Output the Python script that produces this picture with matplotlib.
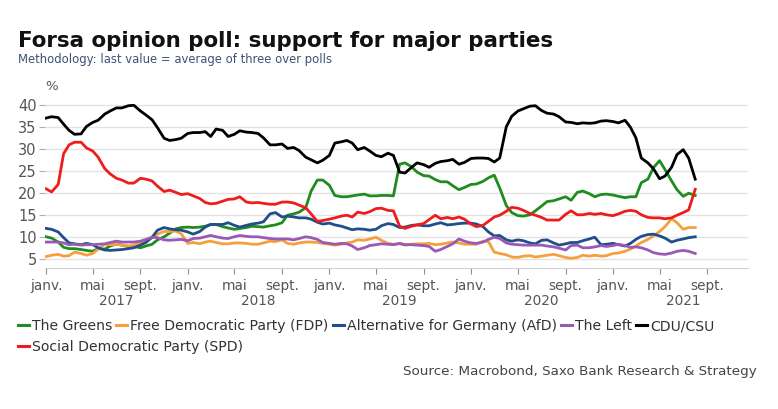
import matplotlib
matplotlib.use("Agg")
import matplotlib.pyplot as plt
from matplotlib.lines import Line2D
from matplotlib.transforms import blended_transform_factory
import pandas as pd

plt.rcParams['font.family'] = ['DejaVu Sans']

# semi-monthly observations, Jan 2017 .. Aug 2021
dates = pd.date_range('2017-01-01', periods=111, freq='SMS')

cdu = [37.1, 37.4, 37.2, 35.7, 34.3, 33.4, 33.5, 35.2, 36.1, 36.6,
       38.0, 38.7, 39.4, 39.4, 39.9, 40.0, 38.7, 37.8, 36.7, 34.9,
       32.5, 32.0, 32.2, 32.5, 33.6, 33.8, 33.8, 34.0, 32.9, 34.6,
       34.3, 32.9, 33.4, 34.2, 33.9, 33.8, 33.6, 32.6, 31.0, 31.0,
       31.2, 30.2, 30.4, 29.7, 28.2, 27.6, 26.9, 27.5, 28.6, 31.4,
       31.7, 32.0, 31.4, 29.9, 30.4, 29.6, 28.6, 28.3, 29.1, 28.6,
       24.8, 24.6, 25.9, 26.9, 26.5, 25.9, 26.8, 27.2, 27.4, 27.7,
       26.6, 27.0, 27.9, 28.0, 28.0, 27.9, 27.1, 28.0, 35.1, 37.5,
       38.7, 39.2, 39.8, 39.9, 38.8, 38.2, 38.0, 37.4, 36.2, 36.1,
       35.8, 36.0, 35.9, 36.0, 36.4, 36.5, 36.3, 36.0, 36.6, 35.0,
       32.6, 28.0, 26.9, 25.6, 23.3, 23.9, 25.9, 28.8, 29.9, 28.0,
       23.2]

spd = [21.0, 20.3, 22.0, 29.0, 31.0, 31.6, 31.6, 30.3, 29.6, 28.2,
       25.6, 24.4, 23.4, 23.0, 22.3, 22.3, 23.4, 23.2, 22.8, 21.6,
       20.4, 20.7, 20.2, 19.7, 19.9, 19.4, 18.8, 17.9, 17.6, 17.7,
       18.2, 18.6, 18.7, 19.2, 18.0, 17.8, 17.9, 17.7, 17.5, 17.5,
       18.0, 18.0, 17.8, 17.3, 16.7, 15.3, 13.6, 13.8, 14.1, 14.4,
       14.8, 15.0, 14.6, 15.7, 15.4, 15.8, 16.5, 16.6, 16.1, 16.0,
       12.5, 12.0, 12.5, 12.8, 13.1, 14.0, 15.0, 14.2, 14.5, 14.2,
       14.6, 14.1, 13.0, 12.4, 12.7, 13.6, 14.6, 15.0, 15.9, 16.8,
       16.6, 16.1, 15.4, 15.0, 14.5, 13.9, 13.9, 13.9, 15.2, 16.0,
       15.1, 15.1, 15.4, 15.2, 15.4, 15.1, 14.9, 15.3, 15.9, 16.1,
       15.9, 15.1, 14.5, 14.4, 14.4, 14.2, 14.4, 15.0, 15.6, 16.2,
       20.9]

greens = [10.1, 9.8, 8.9, 7.7, 7.4, 7.4, 7.2, 7.0, 6.8, 7.4,
          7.3, 8.0, 8.5, 8.2, 7.9, 7.9, 7.6, 8.0, 8.4, 9.4,
          10.1, 10.9, 11.9, 12.2, 12.3, 12.2, 12.3, 12.5, 12.9, 12.9,
          12.4, 12.1, 11.8, 12.0, 12.2, 12.5, 12.4, 12.3, 12.6, 12.8,
          13.3, 15.0, 15.3, 15.7, 16.7, 20.5, 23.0, 23.0, 21.8, 19.5,
          19.2, 19.2, 19.4, 19.6, 19.8, 19.4, 19.4, 19.5, 19.5, 19.4,
          26.6, 26.9, 26.0, 24.8, 24.0, 23.9, 23.1, 22.6, 22.6, 21.7,
          20.8, 21.3, 22.0, 22.1, 22.7, 23.5, 24.1, 21.2, 17.2, 15.6,
          14.9, 14.8, 15.1, 16.0, 17.1, 18.1, 18.3, 18.7, 19.2, 18.4,
          20.2, 20.5, 19.9, 19.2, 19.7, 19.8, 19.6, 19.3, 19.0, 19.2,
          19.2, 22.4, 23.2, 25.8, 27.4, 25.4, 22.8, 20.8, 19.3, 20.0,
          19.5]

fdp = [5.6, 5.9, 6.1, 5.7, 5.8, 6.6, 6.3, 5.9, 6.3, 7.3,
       8.4, 8.3, 8.4, 8.2, 8.0, 8.2, 8.6, 9.1, 9.9, 10.7,
       11.3, 11.3, 11.4, 10.8, 8.6, 8.8, 8.5, 8.9, 9.1, 8.8,
       8.5, 8.5, 8.7, 8.7, 8.6, 8.4, 8.4, 8.7, 9.1, 9.0,
       9.4, 8.6, 8.4, 8.7, 8.9, 8.9, 8.8, 8.6, 8.4, 8.2,
       8.4, 8.7, 8.9, 9.4, 9.3, 9.6, 10.0, 9.3, 8.6, 8.4,
       8.5, 8.2, 8.4, 8.5, 8.5, 8.6, 8.3, 8.4, 8.7, 8.9,
       8.7, 8.4, 8.4, 8.4, 9.1, 9.0, 6.6, 6.3, 6.0, 5.5,
       5.4, 5.7, 5.8, 5.5, 5.7, 5.9, 6.1, 5.8, 5.4, 5.2,
       5.4, 5.9, 5.7, 5.9, 5.7, 5.8, 6.3, 6.4, 6.8, 7.3,
       8.0, 8.8, 9.5, 10.3, 11.3, 12.4, 14.2, 13.3, 11.8, 12.2,
       12.2]

afd = [12.0, 11.8, 11.2, 9.9, 8.7, 8.5, 8.3, 8.6, 8.3, 7.6,
       7.1, 7.0, 7.1, 7.2, 7.4, 7.6, 8.2, 8.8, 10.0, 11.6,
       12.2, 11.9, 11.7, 11.6, 11.2, 10.7, 11.3, 12.3, 12.9, 12.9,
       12.9, 13.3, 12.7, 12.3, 12.7, 13.0, 13.2, 13.5, 15.3, 15.6,
       14.6, 14.8, 14.6, 14.4, 14.4, 14.1, 13.4, 13.0, 13.2, 12.8,
       12.5, 12.1, 11.7, 11.9, 11.8, 11.6, 11.8, 12.6, 13.1, 12.9,
       12.2, 12.3, 12.7, 12.8, 12.6, 12.6, 13.0, 13.3, 12.8, 12.9,
       13.1, 13.2, 13.2, 13.0, 12.4, 11.2, 10.3, 10.4, 9.4, 9.1,
       9.4, 9.2, 8.7, 8.5, 9.3, 9.4, 8.7, 8.2, 8.5, 8.8,
       8.8, 9.2, 9.6, 10.0, 8.3, 8.4, 8.6, 8.3, 8.0, 8.6,
       9.5, 10.2, 10.6, 10.7, 10.3, 9.8, 8.9, 9.3, 9.6, 9.9,
       10.1]

left = [8.9, 8.9, 8.9, 8.7, 8.3, 8.4, 8.2, 8.3, 8.3, 8.4,
        8.5, 8.8, 9.1, 8.9, 8.9, 8.9, 9.1, 9.5, 10.0, 9.9,
        9.4, 9.3, 9.4, 9.5, 9.2, 9.7, 9.8, 10.1, 10.4, 10.1,
        9.8, 9.7, 10.1, 10.4, 10.2, 10.1, 10.1, 9.9, 9.7, 9.6,
        9.6, 9.6, 9.4, 9.7, 10.1, 9.9, 9.5, 8.8, 8.6, 8.4,
        8.6, 8.5, 8.0, 7.2, 7.6, 8.1, 8.3, 8.5, 8.4, 8.3,
        8.6, 8.3, 8.3, 8.2, 8.1, 7.9, 6.8, 7.2, 7.9, 8.5,
        9.6, 9.1, 8.7, 8.6, 8.9, 9.5, 10.0, 9.7, 8.7, 8.4,
        8.3, 8.2, 8.2, 8.2, 8.2, 8.0, 7.8, 7.5, 7.1, 8.1,
        8.2, 7.6, 7.6, 7.8, 8.1, 7.9, 8.1, 8.4, 8.1, 7.7,
        7.8, 7.6, 7.1, 6.5, 6.2, 6.1, 6.4, 6.8, 7.0, 6.8,
        6.3]

series = [
    ("The Greens", greens, "#1e8c1e"),
    ("Free Democratic Party (FDP)", fdp, "#f5a03c"),
    ("Alternative for Germany (AfD)", afd, "#1f4e8a"),
    ("The Left", left, "#9b59b6"),
    ("CDU/CSU", cdu, "#000000"),
    ("Social Democratic Party (SPD)", spd, "#ee1c1c"),
]

yticks = [5, 10, 15, 20, 25, 30, 35, 40]
month_names = {1: "janv.", 5: "mai", 9: "sept."}
years = [2017, 2018, 2019, 2020, 2021]

fig = plt.figure(figsize=(7.78, 4.09), dpi=100)
ax = fig.add_axes([45 / 778, 1 - 268 / 409, 703 / 778, 168 / 409])

for name, vals, col in series:
    ax.plot(dates, vals, color=col, lw=2.0, solid_joinstyle='round')

ax.set_ylim(3, 41.2)
ax.set_xlim(pd.Timestamp('2016-12-29'), pd.Timestamp('2021-12-15'))
ax.set_yticks(yticks)
ax.grid(axis='y', color='#e3e3e3', lw=1.0)
ax.set_axisbelow(True)
for s in ['top', 'right', 'left']:
    ax.spines[s].set_visible(False)
ax.spines['bottom'].set_color('#d0d0d0')

tick_dates = [pd.Timestamp(y, m, 1) for y in years for m in (1, 5, 9)]
ax.set_xticks(tick_dates)
ax.set_xticklabels([month_names[d.month] for d in tick_dates])
ax.tick_params(axis='x', length=4, color='#909090', labelsize=9.8,
               labelcolor='#555555', pad=4)
ax.tick_params(axis='y', length=4, color='#b0b0b0', labelsize=10.5,
               labelcolor='#555555', pad=2)

trans = blended_transform_factory(ax.transData, fig.transFigure)
for y in years:
    ax.text(pd.Timestamp(y, 7, 1), 1 - 301 / 409, str(y), transform=trans,
            ha='center', va='center', fontsize=9.8, color='#555555')

fig.text(18 / 778, 1 - 41 / 409, "Forsa opinion poll: support for major parties",
         fontsize=15.4, fontweight='bold', color='#111111', va='center')
fig.text(18 / 778, 1 - 60 / 409, "Methodology: last value = average of three over polls",
         fontsize=8.4, color='#3b5377', va='center')
fig.text(45 / 778, 1 - 86 / 409, "%", fontsize=9.5, color='#555555', va='center')
fig.text(757 / 778, 1 - 371 / 409, "Source: Macrobond, Saxo Bank Research & Strategy",
         fontsize=9.7, color='#444444', va='center', ha='right')

handles = [Line2D([], [], color=c, lw=2.2) for _, _, c in series]
labels = [n for n, _, _ in series]
leg1 = fig.legend(handles[:5], labels[:5], ncol=5, loc='center left',
                  bbox_to_anchor=(12 / 778, 1 - 326 / 409), frameon=False,
                  handlelength=0.8, handletextpad=0.2, columnspacing=0.3,
                  fontsize=10.1, labelcolor='#333333', borderaxespad=0)
leg2 = fig.legend(handles[5:], labels[5:], ncol=1, loc='center left',
                  bbox_to_anchor=(12 / 778, 1 - 347 / 409), frameon=False,
                  handlelength=0.8, handletextpad=0.2,
                  fontsize=10.1, labelcolor='#333333', borderaxespad=0)

fig.savefig("out.png", dpi=100)
